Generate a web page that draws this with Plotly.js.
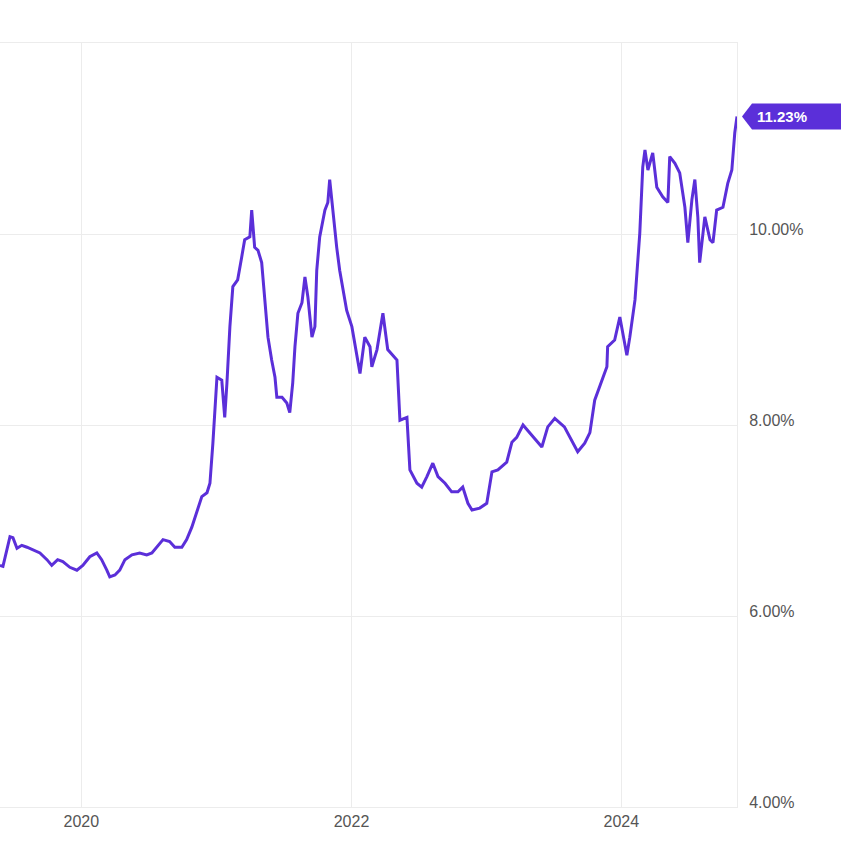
<!DOCTYPE html>
<html>
<head>
<meta charset="utf-8">
<script src="https://cdn.plot.ly/plotly-3.0.1.min.js"></script>
<style>html,body{margin:0;padding:0;background:#fff;}#chart{width:848px;height:848px;}</style>
</head>
<body>
<div id="chart"></div>
<script>
const dates = [
"2019-05-26","2019-06-03","2019-06-22","2019-06-30","2019-07-11","2019-07-24","2019-08-07","2019-08-23",
"2019-09-11","2019-09-30","2019-10-13","2019-10-29","2019-11-12","2019-12-01","2019-12-20",
"2020-01-05","2020-01-24","2020-02-12","2020-02-25","2020-03-10","2020-03-18","2020-04-01","2020-04-14",
"2020-04-28","2020-05-17","2020-06-07","2020-06-26","2020-07-10","2020-07-23","2020-08-09","2020-08-27",
"2020-09-10","2020-09-29","2020-10-12","2020-10-26","2020-11-08","2020-11-22","2020-12-06","2020-12-14",
"2020-12-22",
"2021-01-02","2021-01-15","2021-01-23","2021-01-29","2021-02-06","2021-02-14","2021-02-27","2021-03-10",
"2021-03-18","2021-04-01","2021-04-06","2021-04-14","2021-04-23","2021-05-03","2021-05-12","2021-05-20",
"2021-05-30","2021-06-08","2021-06-13","2021-06-27","2021-07-10","2021-07-18","2021-07-26","2021-08-01",
"2021-08-09","2021-08-20","2021-08-28","2021-09-05","2021-09-16","2021-09-24","2021-09-29","2021-10-07",
"2021-10-21","2021-10-29","2021-11-03","2021-11-11","2021-11-22","2021-11-30","2021-12-14","2021-12-19",
"2022-01-02","2022-01-10","2022-01-24","2022-02-06","2022-02-20","2022-02-25","2022-03-11","2022-03-27",
"2022-04-09","2022-05-04","2022-05-12","2022-05-31","2022-06-08","2022-06-27","2022-07-10","2022-07-24",
"2022-08-09","2022-08-23","2022-09-11","2022-09-29","2022-10-16","2022-10-29","2022-11-12","2022-11-23",
"2022-12-14",
"2023-01-02","2023-01-16","2023-02-01","2023-02-25","2023-03-11","2023-03-24","2023-04-10","2023-04-28",
"2023-05-31","2023-06-16","2023-07-05","2023-07-31","2023-08-20","2023-09-05","2023-09-24","2023-10-08",
"2023-10-21","2023-11-09","2023-11-23","2023-11-25","2023-12-14","2023-12-28",
"2024-01-05","2024-01-16","2024-01-24","2024-02-07","2024-02-20","2024-02-28","2024-03-05","2024-03-13",
"2024-03-26","2024-04-06","2024-04-22","2024-05-06","2024-05-11","2024-05-25","2024-06-07","2024-06-21",
"2024-06-29","2024-07-10","2024-07-18","2024-07-26","2024-07-31","2024-08-14","2024-08-28","2024-09-05",
"2024-09-15","2024-10-02","2024-10-15","2024-10-26","2024-11-03","2024-11-09"
];
const values = [
6.53,6.52,6.83,6.82,6.71,6.74,6.72,6.69,
6.66,6.59,6.53,6.59,6.57,6.51,6.48,
6.53,6.62,6.66,6.59,6.48,6.41,6.43,6.48,
6.59,6.64,6.66,6.64,6.66,6.72,6.80,6.78,
6.72,6.72,6.80,6.93,7.08,7.25,7.29,7.39,
7.81,
8.50,8.47,8.08,8.44,9.03,9.45,9.52,9.76,
9.94,9.97,10.25,9.86,9.83,9.70,9.28,8.92,
8.68,8.50,8.29,8.29,8.23,8.13,8.44,8.82,
9.17,9.28,9.55,9.34,8.92,9.03,9.62,9.97,
10.25,10.33,10.57,10.25,9.86,9.62,9.34,9.20,
9.03,8.86,8.54,8.92,8.82,8.61,8.79,9.17,
8.79,8.68,8.05,8.08,7.53,7.39,7.35,7.46,
7.60,7.46,7.39,7.30,7.30,7.35,7.18,7.11,
7.13,
7.18,7.51,7.53,7.61,7.82,7.87,8.00,7.92,
7.77,7.98,8.07,7.98,7.84,7.72,7.81,7.92,
8.26,8.47,8.61,8.82,8.89,9.13,
8.96,8.73,8.92,9.31,10.01,10.70,10.88,10.67,
10.85,10.49,10.39,10.33,10.81,10.74,10.64,10.28,
9.91,10.36,10.57,10.18,9.70,10.18,9.94,9.91,
10.25,10.28,10.53,10.67,11.06,11.23
];
const yTicks = [4, 6, 8, 10];
const yTickText = ["4.00%", "6.00%", "8.00%", "10.00%"];
const xTicks = ["2020-01-01", "2022-01-01", "2024-01-01"];
const xTickText = ["2020", "2022", "2024"];

const lineColor = "#5b2fd9";
const lastDate = dates[dates.length - 1];
const lastVal = values[values.length - 1];

const trace = {
  x: dates, y: values, type: "scatter", mode: "lines",
  line: {color: lineColor, width: 3},
  hoverinfo: "skip"
};

const layout = {
  width: 848, height: 848,
  margin: {l: 0, r: 111, t: 43, b: 41, pad: 0},
  paper_bgcolor: "#ffffff", plot_bgcolor: "#ffffff",
  showlegend: false,
  xaxis: {
    type: "date",
    range: ["2019-05-26", lastDate],
    tickvals: xTicks, ticktext: xTickText,
    showgrid: true, gridcolor: "#ececec", gridwidth: 1,
    showline: true, mirror: true, linecolor: "#ececec", linewidth: 1,
    zeroline: false, ticks: "",
    tickfont: {family: "Liberation Sans, Arial, sans-serif", size: 16, color: "#555"}
  },
  yaxis: {
    side: "right",
    range: [4, 12],
    tickvals: yTicks, ticktext: yTickText,
    showgrid: true, gridcolor: "#ececec", gridwidth: 1,
    showline: true, linecolor: "#ececec", linewidth: 1,
    zeroline: false, ticks: "",
    ticklabelstandoff: 8,
    ticklabelshift: -5,
    tickfont: {family: "Liberation Sans, Arial, sans-serif", size: 16, color: "#555"}
  },
  shapes: [{
    type: "path",
    xref: "paper", yref: "y",
    xsizemode: "pixel", ysizemode: "pixel",
    xanchor: 1, yanchor: lastVal,
    path: "M 5 0 L 15 -13 L 104 -13 L 104 13 L 15 13 Z",
    fillcolor: lineColor, line: {width: 0}
  }],
  annotations: [{
    xref: "paper", yref: "y", x: 1, y: lastVal,
    xanchor: "left", yanchor: "middle", xshift: 18,
    text: lastVal.toFixed(2) + "%", showarrow: false,
    font: {family: "Liberation Sans, Arial, sans-serif", size: 15, color: "#ffffff", weight: "bold"}
  }]
};

Plotly.newPlot("chart", [trace], layout, {staticPlot: true, displayModeBar: false});
</script>
</body>
</html>
